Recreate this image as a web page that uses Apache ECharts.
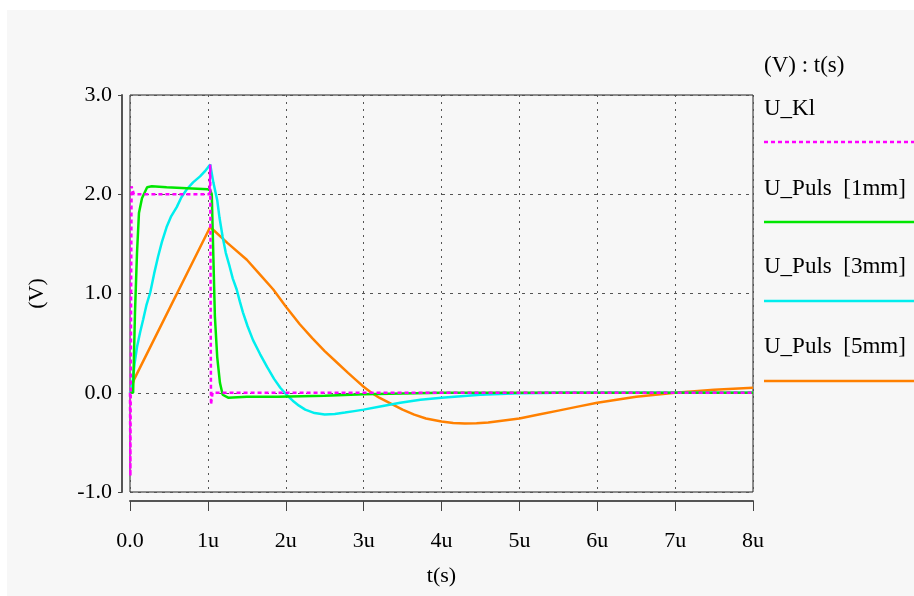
<!DOCTYPE html>
<html>
<head>
<meta charset="utf-8">
<script src="https://cdn.jsdelivr.net/npm/echarts@6/dist/echarts.min.js"></script>
<style>
html,body{margin:0;padding:0;background:#ffffff;}
#bg{position:absolute;left:7px;top:10px;width:907px;height:586px;background:#f7f7f7;}
#chart{position:absolute;left:0;top:0;width:914px;height:596px;}
</style>
</head>
<body>
<div id="bg"></div>
<div id="chart"></div>
<script>
// time in microseconds, voltage in V
const xTicks = [0, 1, 2, 3, 4, 5, 6, 7, 8];
const yTicks = [-1, 0, 1, 2, 3];

const seriesNames = ['U_Kl', 'U_Puls  [1mm]', 'U_Puls  [3mm]', 'U_Puls  [5mm]'];

const tKl = [0, 0.005, 0.02, 0.05, 1.02, 1.03, 1.04, 1.06, 8];
const vKl = [0, -0.84, 2.08, 2.0, 2.0, 2.3, -0.12, 0.0, 0.0];

const t1mm = [0, 0.04, 0.064, 0.09, 0.115, 0.154, 0.22, 0.28, 0.47, 0.73, 1.0, 1.03, 1.05, 1.09, 1.12, 1.155, 1.19, 1.26, 1.5, 1.9, 2.5, 3.0, 4.0, 8];
const v1mm = [0, 0, 0.81, 1.41, 1.81, 1.96, 2.07, 2.08, 2.07, 2.06, 2.05, 2.04, 2.0, 0.77, 0.36, 0.10, -0.02, -0.05, -0.04, -0.04, -0.03, -0.015, 0, 0];

const t3mm = [0, 0.03, 0.06, 0.09, 0.13, 0.17, 0.21, 0.26, 0.31, 0.36, 0.41, 0.47, 0.53, 0.60, 0.66, 0.73, 0.81, 0.90, 0.96, 1.0, 1.03,
  1.07, 1.12, 1.15, 1.19, 1.23, 1.28, 1.32, 1.37, 1.41, 1.45, 1.51, 1.58, 1.67, 1.76, 1.85, 1.93, 2.01, 2.09, 2.17, 2.25, 2.37, 2.5,
  2.63, 2.76, 2.88, 3.0, 3.23, 3.47, 3.73, 4.0, 4.5, 5.0, 5.5, 8];
const v3mm = [0, 0.08, 0.30, 0.46, 0.61, 0.74, 0.88, 1.01, 1.20, 1.37, 1.52, 1.67, 1.78, 1.87, 1.97, 2.05, 2.12, 2.18, 2.23, 2.27, 2.30,
  2.12, 1.94, 1.76, 1.57, 1.41, 1.27, 1.15, 1.04, 0.92, 0.81, 0.67, 0.53, 0.39, 0.26, 0.14, 0.05, -0.02, -0.08, -0.13, -0.17, -0.205, -0.22,
  -0.215, -0.20, -0.185, -0.17, -0.135, -0.10, -0.07, -0.05, -0.02, -0.005, 0, 0];

const t5mm = [0, 0.05, 0.54, 1.03, 1.25, 1.5, 1.67, 1.84, 2.0, 2.18, 2.34, 2.5, 2.65, 2.8, 2.9, 3.0, 3.1, 3.2, 3.35, 3.5, 3.65, 3.8, 4.0,
  4.15, 4.3, 4.45, 4.6, 4.8, 5.0, 5.25, 5.5, 5.75, 6.0, 6.25, 6.5, 6.75, 7.0, 7.25, 7.5, 7.75, 8];
const v5mm = [0, 0.13, 0.90, 1.67, 1.51, 1.34, 1.19, 1.04, 0.87, 0.69, 0.55, 0.42, 0.31, 0.20, 0.13, 0.06, 0.0, -0.05, -0.11, -0.17, -0.22, -0.26, -0.29,
  -0.305, -0.31, -0.308, -0.30, -0.28, -0.26, -0.22, -0.18, -0.14, -0.10, -0.07, -0.04, -0.02, 0.0, 0.015, 0.03, 0.04, 0.05];

const colors = ['#ff00ff', '#00e600', '#00eeee', '#ff8000'];

function pairs(t, v) { return t.map((x, i) => [x, v[i]]); }

const FONT = '"Liberation Serif", "DejaVu Serif", serif';
const FS = 22;
const LFS = 23;
const chart = echarts.init(document.getElementById('chart'), null, {renderer: 'canvas'});

const allT = [tKl, t1mm, t3mm, t5mm];
const allV = [vKl, v1mm, v3mm, v5mm];

const series = [3, 2, 1, 0].map(i => ({
  name: seriesNames[i],
  type: 'line',
  data: pairs(allT[i], allV[i]),
  showSymbol: false,
  smooth: false,
  lineStyle: {color: colors[i], width: 2.5, type: i === 0 ? [4, 3] : 'solid'},
  z: 3 + (3 - i)
}));

// legend drawn at right
const legendTextY = [110, 190, 268, 348];
const legendLineY = [142, 222, 301, 381];
const graphics = [{
  type: 'text', left: 764, top: 67 - 13,
  style: {text: '(V) : t(s)', font: LFS + 'px ' + FONT, fill: '#000'}
}];
seriesNames.forEach((n, i) => {
  graphics.push({type: 'text', left: 764, top: legendTextY[i] - 13,
    style: {text: n.replace(/ /g, '\u00a0'), font: LFS + 'px ' + FONT, fill: '#000'}});
  graphics.push({type: 'line', shape: {x1: 764, y1: legendLineY[i], x2: 914, y2: legendLineY[i]},
    style: {stroke: colors[i], lineWidth: 2.5, lineDash: i === 0 ? [4, 3] : null}});
});

chart.setOption({
  backgroundColor: 'transparent',
  animation: false,
  textStyle: {fontFamily: FONT},
  grid: {left: 130, right: 161, top: 95, bottom: 104, show: true, borderColor: '#222', borderWidth: 1, backgroundColor: 'transparent'},
  xAxis: {
    type: 'value', min: 0, max: 8, interval: 1,
    offset: 9,
    name: 't(s)', nameLocation: 'middle', nameGap: 64,
    nameTextStyle: {fontSize: FS, color: '#000', fontFamily: FONT},
    axisLine: {show: true, onZero: false, lineStyle: {color: '#555', width: 2}},
    axisTick: {show: true, length: 10, lineStyle: {color: '#444', width: 1}},
    axisLabel: {fontSize: FS, color: '#000', margin: 29, fontFamily: FONT,
      formatter: v => v === 0 ? '0.0' : v + 'u'},
    splitLine: {show: true, lineStyle: {color: '#555', type: [2, 5], width: 1}}
  },
  yAxis: {
    type: 'value', min: -1, max: 3, interval: 1,
    offset: 8,
    name: '(V)', nameLocation: 'middle', nameGap: 74, nameRotate: 90,
    nameTextStyle: {fontSize: FS, color: '#000', fontFamily: FONT},
    axisLine: {show: true, onZero: false, lineStyle: {color: '#555', width: 2}},
    axisTick: {show: true, length: 4, lineStyle: {color: '#444', width: 1}},
    axisLabel: {fontSize: FS, color: '#000', margin: 10, fontFamily: FONT,
      formatter: v => v.toFixed(1)},
    splitLine: {show: true, lineStyle: {color: '#555', type: [3, 5], width: 1}}
  },
  graphic: graphics,
  series: series
});
</script>
</body>
</html>
